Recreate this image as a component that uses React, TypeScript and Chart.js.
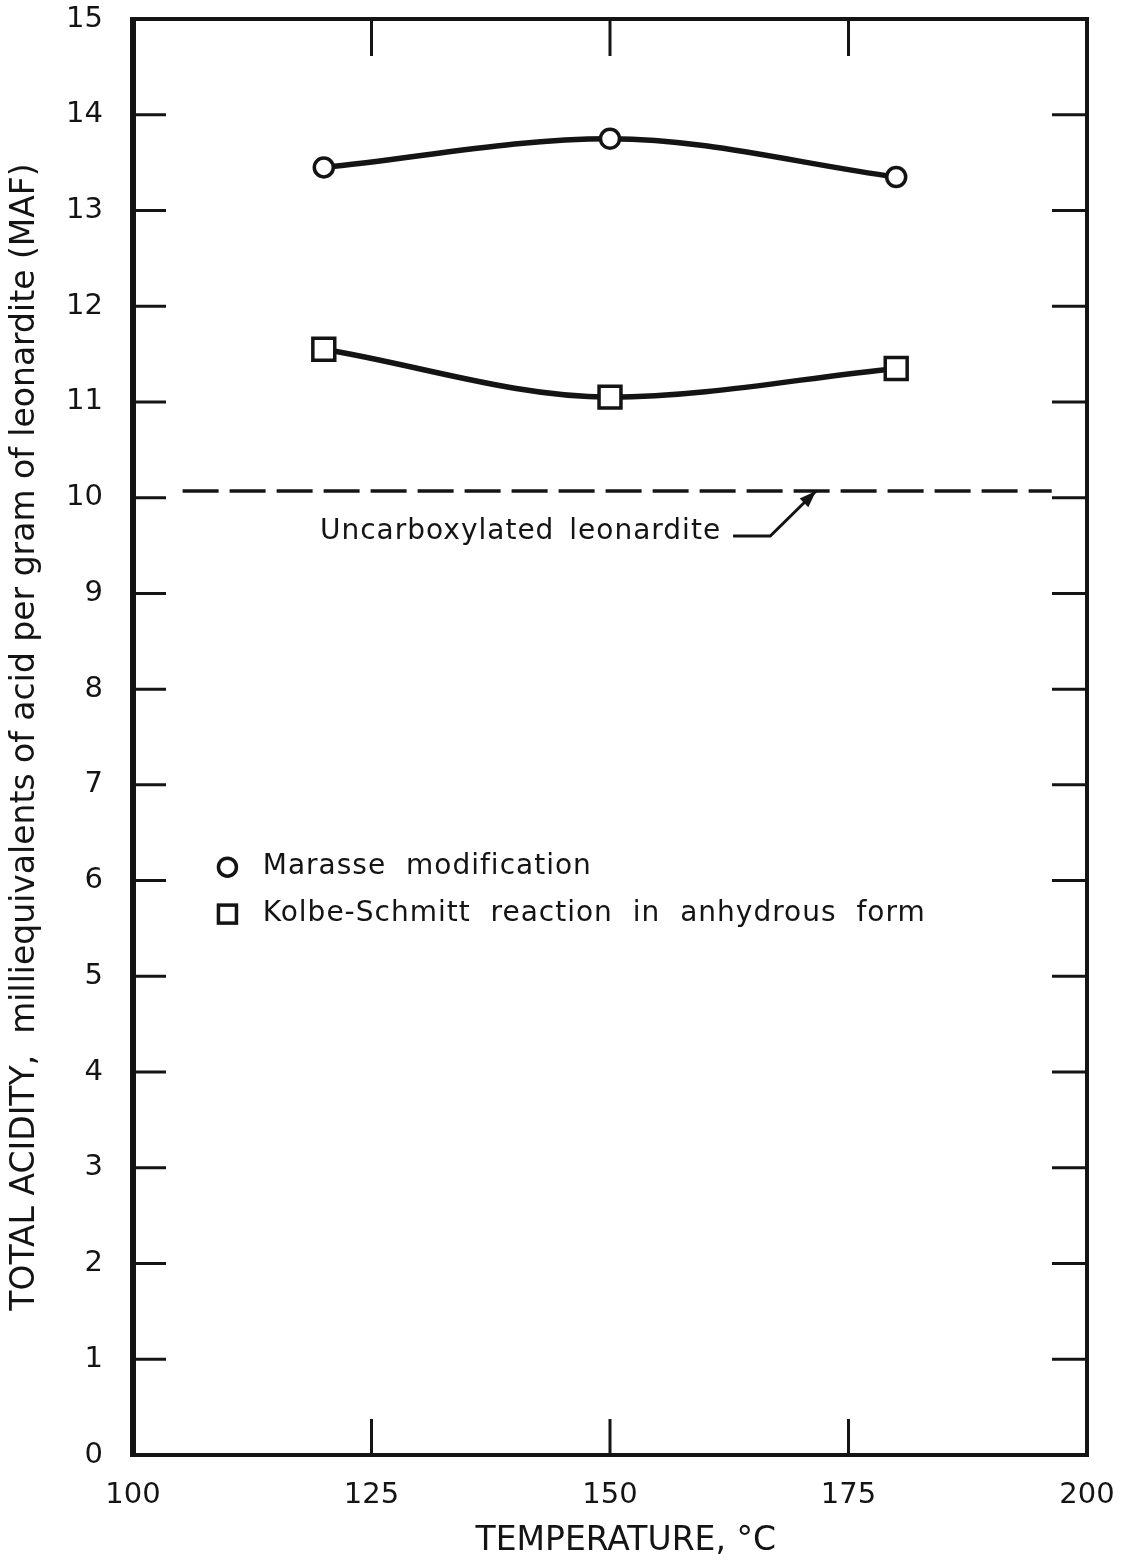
import React, { useEffect, useRef } from "react";
import { Chart, registerables } from "chart.js";

Chart.register(...registerables);

// ---- data ----
const temperatures = [120, 150, 180];
const marasseValues = [13.45, 13.75, 13.35];
const kolbeValues = [11.55, 11.05, 11.35];
const baselineTemps = [105.2, 196.3];
const baselineValues = [10.07, 10.07];
const xTickValues = [100, 125, 150, 175, 200];
const yTickValues = [0, 1, 2, 3, 4, 5, 6, 7, 8, 9, 10, 11, 12, 13, 14, 15];
const seriesLabels = ["Marasse modification", "Kolbe-Schmitt reaction in anhydrous form"];
const baselineLabel = "Uncarboxylated leonardite";
const xTitle = "   TEMPERATURE, °C";
const yTitle = "TOTAL ACIDITY,  milliequivalents of acid per gram of leonardite (MAF)";

// ---- placement of in-plot texts (data units) ----
const legendAnchor = { x: 109.9, y: [6.14, 5.65], textX: 113.6 };
const baselineTextAnchor = { x: 119.6, y: 9.64 };
const leaderPath = [
  [162.9, 9.6],
  [166.8, 9.6],
  [171.6, 10.07],
];

const INK = "#141414";
const FONT = "'DejaVu Sans', sans-serif";

const framePlugin = {
  id: "frameTicks",
  beforeDatasetsDraw(chart: any) {
    const { ctx, chartArea: a, scales } = chart;
    ctx.save();
    ctx.strokeStyle = INK;
    ctx.lineCap = "butt";
    ctx.lineWidth = 3;
    xTickValues.forEach((v) => {
      if (v === scales.x.min || v === scales.x.max) return;
      const px = scales.x.getPixelForValue(v);
      ctx.beginPath();
      ctx.moveTo(px, a.top);
      ctx.lineTo(px, a.top + 37);
      ctx.moveTo(px, a.bottom);
      ctx.lineTo(px, a.bottom - 36);
      ctx.stroke();
    });
    yTickValues.forEach((v) => {
      if (v === scales.y.min || v === scales.y.max) return;
      const py = scales.y.getPixelForValue(v);
      ctx.beginPath();
      ctx.moveTo(a.left, py);
      ctx.lineTo(a.left + 33, py);
      ctx.moveTo(a.right, py);
      ctx.lineTo(a.right - 35, py);
      ctx.stroke();
    });
    ctx.lineWidth = 4;
    ctx.beginPath();
    ctx.moveTo(a.left, a.top);
    ctx.lineTo(a.right, a.top);
    ctx.lineTo(a.right, a.bottom);
    ctx.lineTo(a.left, a.bottom);
    ctx.stroke();
    ctx.lineWidth = 6;
    ctx.beginPath();
    ctx.moveTo(a.left, a.top - 2);
    ctx.lineTo(a.left, a.bottom + 2);
    ctx.stroke();
    ctx.restore();
  },
  afterDatasetsDraw(chart: any) {
    const { ctx, scales } = chart;
    const X = (v: number) => scales.x.getPixelForValue(v);
    const Y = (v: number) => scales.y.getPixelForValue(v);
    ctx.save();
    ctx.fillStyle = INK;
    ctx.strokeStyle = INK;
    ctx.font = `28px ${FONT}`;
    ctx.textBaseline = "middle";
    ctx.textAlign = "left";
    (ctx as any).letterSpacing = "1px";
    // legend
    const lx = X(legendAnchor.x);
    const y0 = Y(legendAnchor.y[0]);
    const y1 = Y(legendAnchor.y[1]);
    ctx.lineWidth = 3.5;
    ctx.fillStyle = "#fff";
    ctx.beginPath();
    ctx.arc(lx, y0, 9, 0, Math.PI * 2);
    ctx.fill();
    ctx.stroke();
    ctx.fillRect(lx - 9, y1 - 9, 18, 18);
    ctx.strokeRect(lx - 9, y1 - 9, 18, 18);
    ctx.fillStyle = INK;
    (ctx as any).wordSpacing = "10px";
    ctx.fillText(seriesLabels[0], X(legendAnchor.textX), y0);
    ctx.fillText(seriesLabels[1], X(legendAnchor.textX), y1);
    (ctx as any).wordSpacing = "5px";
    ctx.fillText(baselineLabel, X(baselineTextAnchor.x), Y(baselineTextAnchor.y));
    ctx.lineWidth = 3;
    ctx.beginPath();
    leaderPath.forEach(([vx, vy], i) => {
      if (i === 0) ctx.moveTo(X(vx), Y(vy));
      else ctx.lineTo(X(vx), Y(vy));
    });
    ctx.stroke();
    const [p1, p2] = [leaderPath[1], leaderPath[2]];
    const tx = X(p2[0]);
    const ty = Y(p2[1]);
    const ang = Math.atan2(ty - Y(p1[1]), tx - X(p1[0]));
    ctx.beginPath();
    ctx.moveTo(tx, ty);
    ctx.lineTo(tx - 18 * Math.cos(ang - 0.35), ty - 18 * Math.sin(ang - 0.35));
    ctx.lineTo(tx - 18 * Math.cos(ang + 0.35), ty - 18 * Math.sin(ang + 0.35));
    ctx.closePath();
    ctx.fill();
    ctx.restore();
  },
};

export default function App() {
  const ref = useRef<HTMLCanvasElement | null>(null);
  useEffect(() => {
    if (!ref.current) return;
    const tickFont = { family: FONT, size: 29 };
    const chart = new Chart(ref.current, {
      type: "line",
      data: {
        datasets: [
          {
            label: seriesLabels[0],
            data: temperatures.map((t, i) => ({ x: t, y: marasseValues[i] })),
            borderColor: INK,
            borderWidth: 5.5,
            cubicInterpolationMode: "monotone",
            pointStyle: "circle",
            pointRadius: 9.5,
            pointBorderWidth: 3.5,
            pointBackgroundColor: "#fff",
            pointBorderColor: INK,
          },
          {
            label: seriesLabels[1],
            data: temperatures.map((t, i) => ({ x: t, y: kolbeValues[i] })),
            borderColor: INK,
            borderWidth: 5.5,
            cubicInterpolationMode: "monotone",
            pointStyle: "rect",
            pointRadius: 15.5,
            pointBorderWidth: 3.5,
            pointBackgroundColor: "#fff",
            pointBorderColor: INK,
          },
          {
            label: baselineLabel,
            data: baselineTemps.map((t, i) => ({ x: t, y: baselineValues[i] })),
            borderColor: INK,
            borderWidth: 3.5,
            borderDash: [36, 11],
            pointRadius: 0,
            tension: 0,
          },
        ],
      },
      options: {
        responsive: false,
        animation: false,
        layout: { padding: { top: 17, right: 46, left: 0, bottom: 0 } },
        plugins: { legend: { display: false }, tooltip: { enabled: false } },
        scales: {
          x: {
            type: "linear",
            min: 100,
            max: 200,
            afterBuildTicks: (s: any) => {
              s.ticks = xTickValues.map((v) => ({ value: v }));
            },
            afterFit: (s: any) => {
              s.height = 108;
              s.paddingLeft = 0;
              s.paddingRight = 0;
            },
            grid: { display: false, drawTicks: false },
            border: { display: false },
            ticks: { padding: 23, color: INK, font: tickFont, maxRotation: 0, autoSkip: false },
            title: {
              display: true,
              text: xTitle,
              color: INK,
              font: { family: FONT, size: 33 },
              padding: { top: 0, bottom: 2 },
            },
          },
          y: {
            type: "linear",
            min: 0,
            max: 15,
            afterBuildTicks: (s: any) => {
              s.ticks = yTickValues.map((v) => ({ value: v }));
            },
            afterFit: (s: any) => {
              s.width = 133;
              s.paddingTop = 0;
              s.paddingBottom = 0;
            },
            grid: { display: false, drawTicks: false },
            border: { display: false },
            ticks: { padding: 30, color: INK, font: tickFont, autoSkip: false },
            title: {
              display: true,
              text: yTitle,
              color: INK,
              font: { family: FONT, size: 33 },
              padding: { top: 6, bottom: 0 },
            },
          },
        },
      },
      plugins: [framePlugin],
    } as any);
    return () => chart.destroy();
  }, []);
  return (
    <div style={{ position: "absolute", left: 0, top: 0, width: 1133, height: 1563, background: "#fff" }}>
      <canvas ref={ref} width={1133} height={1563} style={{ display: "block" }} />
    </div>
  );
}
